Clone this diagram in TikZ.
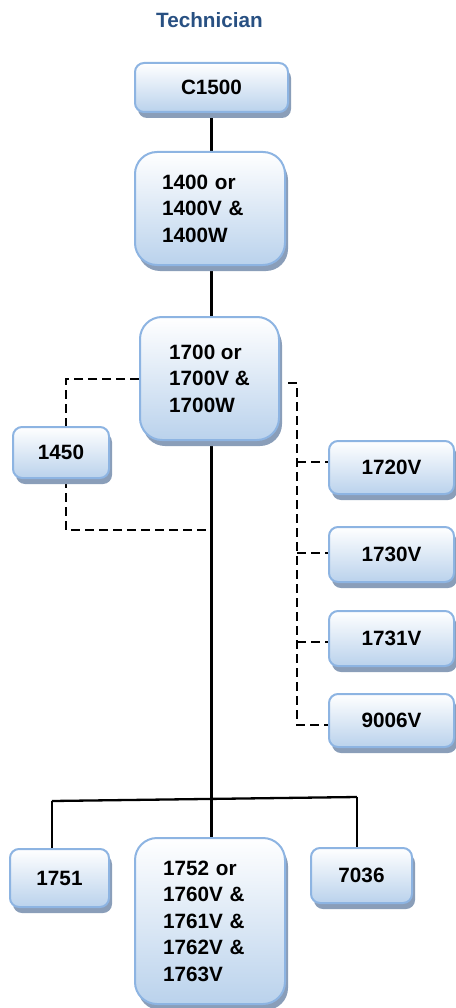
\documentclass[tikz,border=0pt]{standalone}
\usepackage{fontspec}
\setmainfont{Liberation Sans}
\usetikzlibrary{shadows,backgrounds}
\definecolor{boxborder}{RGB}{141,180,226}
\definecolor{boxbottom}{RGB}{186,210,236}
\definecolor{shadowc}{RGB}{138,158,185}
\definecolor{titleblue}{RGB}{40,80,130}
\tikzset{
 box/.style={draw=boxborder, line width=2pt, top color=white, bottom color=boxbottom,
   inner sep=0pt, font=\bfseries\fontsize{20.7}{26.5}\selectfont,
   drop shadow={shadow xshift=3pt, shadow yshift=-6pt, fill=shadowc, opacity=1}},
 smallbox/.style={box, rounded corners=9pt},
 bigbox/.style={box, rounded corners=22pt, align=left},
 solidline/.style={line width=2.3pt, black},
 dashline/.style={line width=2.3pt, black, dash pattern=on 9pt off 5pt},
}
\begin{document}
\begin{tikzpicture}[x=1pt,y=-1pt]
\useasboundingbox (0,0) rectangle (455,1008);
\node[font=\bfseries\fontsize{20.7}{24}\selectfont, text=titleblue, anchor=base] (title) at (209.5,28) {Technician};

\node[smallbox, minimum width=153pt, minimum height=49pt] (c1500) at (211.5,87.5) {C1500};
\node[bigbox, minimum width=150pt, minimum height=113pt, text width=96pt] (b1400) at (210,208.5) {1400 or\\1400V \&\\1400W};
\node[bigbox, minimum width=139pt, minimum height=123pt] (b1700) at (209.5,378.5) {1700 or\\1700V \&\\1700W};
\node[smallbox, minimum width=96pt, minimum height=51pt] (b1450) at (61,452.5) {1450};
\node[smallbox, minimum width=125pt, minimum height=53pt] (b1720) at (391.5,467.5) {1720V};
\node[smallbox, minimum width=125pt, minimum height=55pt] (b1730) at (391.5,554.5) {1730V};
\node[smallbox, minimum width=125pt, minimum height=55pt] (b1731) at (391.5,638.5) {1731V};
\node[smallbox, minimum width=125pt, minimum height=53pt] (b9006) at (391.5,720.5) {9006V};
\node[smallbox, minimum width=99pt, minimum height=58pt] (b1751) at (59.5,878) {1751};
\node[bigbox, minimum width=150pt, minimum height=166pt, text width=94pt] (b1752) at (210,921) {1752 or\\1760V \&\\1761V \&\\1762V \&\\1763V};
\node[smallbox, minimum width=101pt, minimum height=55pt] (b7036) at (361.5,875.5) {7036};

\coordinate (bus) at (211.5,799);
\coordinate (busL) at (52,801);
\coordinate (busR) at (357,797);
\coordinate (dl1) at (66,379);
\coordinate (dl2) at (66,530);
\coordinate (dr0) at (288,383);
\coordinate (dr1) at (297,383);
\coordinate (dr2) at (297,462);
\coordinate (dr3) at (297,553);
\coordinate (dr4) at (297,642);
\coordinate (dr5) at (297,725);

\begin{scope}[on background layer]
\draw[solidline] (c1500.south) -- (c1500.south |- b1400.north);
\draw[solidline] (b1400.south -| bus) -- (b1700.north -| bus);
\draw[solidline] (b1700.south -| bus) -- (bus);
\draw[solidline] (busL) -- (busR);
\draw[solidline] (busL) -- (busL |- b1751.north);
\draw[solidline] (bus) -- (bus |- b1752.north);
\draw[solidline] (busR) -- (busR |- b7036.north);
\draw[dashline] (b1700.west |- dl1) -- (dl1) -- (dl1 |- b1450.north);
\draw[dashline] (dl1 |- b1450.south) -- (dl2) -- (dl2 -| bus);
\draw[dashline] (dr0) -- (dr1) -- (dr5) -- (dr5 -| b9006.west);
\draw[dashline] (dr2) -- (dr2 -| b1720.west);
\draw[dashline] (dr3) -- (dr3 -| b1730.west);
\draw[dashline] (dr4) -- (dr4 -| b1731.west);
\end{scope}
\end{tikzpicture}
\end{document}
